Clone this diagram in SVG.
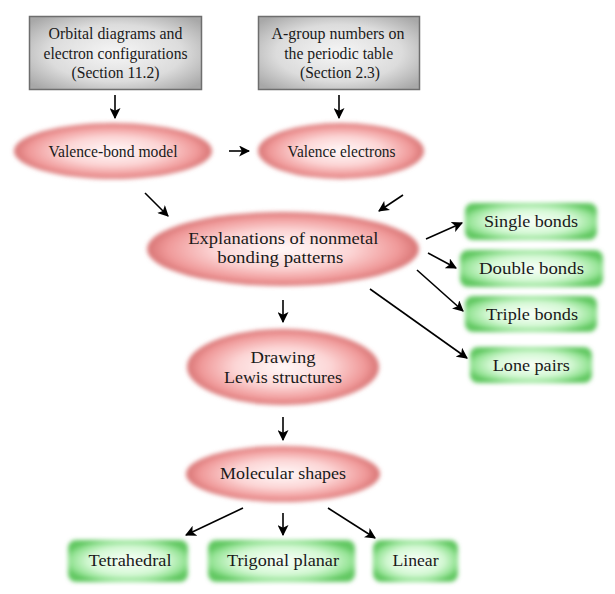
<svg xmlns="http://www.w3.org/2000/svg" width="615" height="594" viewBox="0 0 615 594">
<style>
text{font-size:17px;fill:#1a1a1a;text-anchor:middle}
.box{fill:url(#gGray);stroke:#6e6e6e;stroke-width:1.5}
.ell{fill:url(#gRed);filter:url(#soft)}
.grn{fill:url(#gGreen);filter:url(#soft)}
.c line{stroke:#000;stroke-width:1.6;marker-end:url(#ah)}
</style>
<defs>
<radialGradient id="gGray" cx="50%" cy="50%" r="65%">
<stop offset="0" stop-color="#f6f6f6"/><stop offset="0.6" stop-color="#dcdcdc"/><stop offset="1" stop-color="#a8a8a8"/>
</radialGradient>
<radialGradient id="gRed" cx="50%" cy="50%" r="50%">
<stop offset="0" stop-color="#fff8f8"/><stop offset="0.5" stop-color="#fcd6d6"/><stop offset="0.85" stop-color="#f09a9a"/><stop offset="1" stop-color="#d87474"/>
</radialGradient>
<radialGradient id="gGreen" cx="50%" cy="50%" r="55%">
<stop offset="0" stop-color="#fafffa"/><stop offset="0.6" stop-color="#d4f8d4"/><stop offset="0.88" stop-color="#92e292"/><stop offset="1" stop-color="#62c862"/>
</radialGradient>
<filter id="soft" x="-10%" y="-20%" width="120%" height="140%">
<feGaussianBlur stdDeviation="2.2"/>
</filter>
<marker id="ah" viewBox="0 0 10 10" refX="9" refY="5" markerWidth="11" markerHeight="11" markerUnits="userSpaceOnUse" orient="auto">
<path d="M0,0 L10,5 L0,10 L2.5,5 Z" fill="#000"/>
</marker>
</defs>

<g font-family="'Liberation Serif', 'Times New Roman', serif">
<g id="n-orbital">
<rect class="box" x="29.5" y="16.5" width="172" height="73"/>
<text x="115.5" y="39" textLength="134" lengthAdjust="spacingAndGlyphs">Orbital diagrams and</text>
<text x="115.5" y="59" textLength="144" lengthAdjust="spacingAndGlyphs">electron configurations</text>
<text x="115.5" y="78" textLength="88" lengthAdjust="spacingAndGlyphs">(Section 11.2)</text>
</g>
<g id="n-agroup">
<rect class="box" x="258.5" y="16.5" width="161" height="73"/>
<text x="338" y="39" textLength="133" lengthAdjust="spacingAndGlyphs">A-group numbers on</text>
<text x="338.7" y="59" textLength="109" lengthAdjust="spacingAndGlyphs">the periodic table</text>
<text x="340" y="78" textLength="80" lengthAdjust="spacingAndGlyphs">(Section 2.3)</text>
</g>
<g id="n-vbm">
<ellipse class="ell" cx="113" cy="151" rx="99" ry="28"/>
<text x="113" y="157" textLength="129" lengthAdjust="spacingAndGlyphs">Valence-bond model</text>
</g>
<g id="n-ve">
<ellipse class="ell" cx="341" cy="151" rx="83" ry="28"/>
<text x="341.5" y="157" textLength="108" lengthAdjust="spacingAndGlyphs">Valence electrons</text>
</g>
<g id="n-expl">
<ellipse class="ell" cx="283" cy="249" rx="136" ry="37"/>
<text x="283.3" y="244" textLength="190" lengthAdjust="spacingAndGlyphs">Explanations of nonmetal</text>
<text x="280.3" y="263" textLength="126" lengthAdjust="spacingAndGlyphs">bonding patterns</text>
</g>
<g id="n-single">
<rect class="grn" x="465" y="203" width="132" height="37" rx="8"/>
<text x="531" y="227" textLength="94" lengthAdjust="spacingAndGlyphs">Single bonds</text>
</g>
<g id="n-double">
<rect class="grn" x="460" y="250" width="143" height="37" rx="8"/>
<text x="531.5" y="274" textLength="105" lengthAdjust="spacingAndGlyphs">Double bonds</text>
</g>
<g id="n-triple">
<rect class="grn" x="465" y="296" width="132" height="36" rx="8"/>
<text x="532" y="320" textLength="92" lengthAdjust="spacingAndGlyphs">Triple bonds</text>
</g>
<g id="n-lone">
<rect class="grn" x="470" y="347" width="122" height="36" rx="8"/>
<text x="531.3" y="371" textLength="77" lengthAdjust="spacingAndGlyphs">Lone pairs</text>
</g>
<g id="n-lewis">
<ellipse class="ell" cx="283" cy="367" rx="96" ry="38"/>
<text x="283" y="363" textLength="65" lengthAdjust="spacingAndGlyphs">Drawing</text>
<text x="283" y="383" textLength="118" lengthAdjust="spacingAndGlyphs">Lewis structures</text>
</g>
<g id="n-mol">
<ellipse class="ell" cx="283" cy="474" rx="97" ry="28"/>
<text x="283" y="479" textLength="126" lengthAdjust="spacingAndGlyphs">Molecular shapes</text>
</g>
<g id="n-tetra">
<rect class="grn" x="68" y="540" width="120" height="42" rx="8"/>
<text x="130" y="566" textLength="83" lengthAdjust="spacingAndGlyphs">Tetrahedral</text>
</g>
<g id="n-trig">
<rect class="grn" x="208" y="540" width="147" height="42" rx="8"/>
<text x="283" y="566" textLength="112" lengthAdjust="spacingAndGlyphs">Trigonal planar</text>
</g>
<g id="n-linear">
<rect class="grn" x="373" y="540" width="85" height="42" rx="8"/>
<text x="415.5" y="566" textLength="46" lengthAdjust="spacingAndGlyphs">Linear</text>
</g>
</g>

<g id="connectors" class="c">
<line x1="115" y1="95" x2="115" y2="118"/>
<line x1="339" y1="95" x2="339" y2="118"/>
<line x1="229" y1="151" x2="249" y2="151"/>
<line x1="145" y1="193" x2="168" y2="216"/>
<line x1="403" y1="195" x2="379" y2="211"/>
<line x1="426" y1="239" x2="462" y2="223"/>
<line x1="428" y1="253" x2="456" y2="268"/>
<line x1="417" y1="270" x2="463" y2="311"/>
<line x1="370" y1="289" x2="467" y2="358"/>
<line x1="283" y1="300" x2="283" y2="322"/>
<line x1="283" y1="417" x2="283" y2="440"/>
<line x1="243" y1="508" x2="186" y2="535"/>
<line x1="283" y1="513" x2="283" y2="535"/>
<line x1="328" y1="508" x2="375" y2="538"/>
</g>
</svg>
